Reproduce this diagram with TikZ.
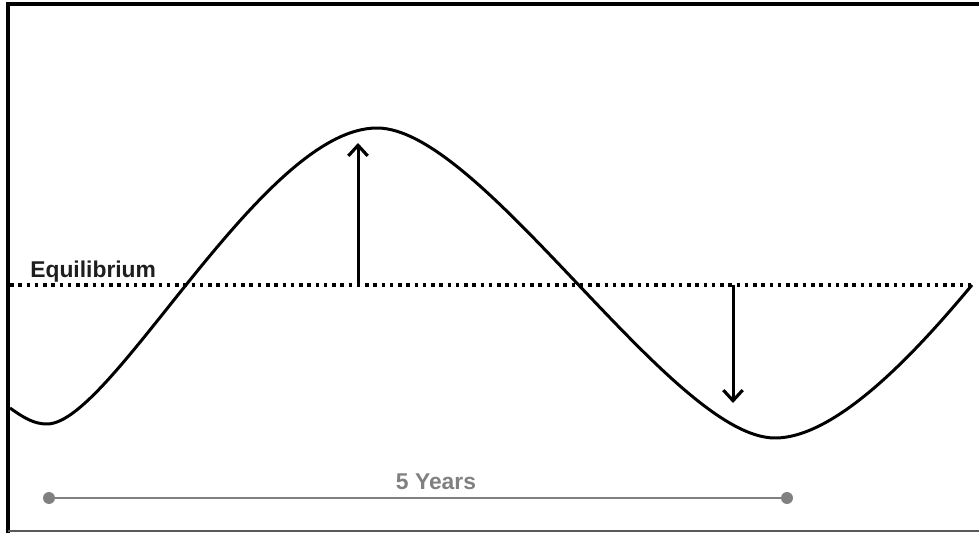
\documentclass[tikz,border=0pt]{standalone}
\usepackage{fontspec}
\setmainfont{Liberation Sans}
\usetikzlibrary{arrows.meta}
\definecolor{spangray}{RGB}{128,128,128}
\definecolor{labelink}{RGB}{30,30,30}
\tikzset{
  wave/.style={line width=1.7pt, line join=round},
  shiftarrow/.style={line width=1.7pt, -{Straight Barb[length=6pt,width=11pt,line width=1.8pt]}},
  eqline/.style={line width=2pt, dash pattern=on 2pt off 2.7pt},
  spanline/.style={draw=spangray, line width=1.7pt},
  spandot/.style={circle, fill=spangray, inner sep=0pt, minimum size=6.8pt},
  tag/.style={inner sep=0pt, font=\fontsize{13}{15}\selectfont\bfseries},
}
\begin{document}
\begin{tikzpicture}[x=0.02cm,y=-0.02cm]
\useasboundingbox (0,0) rectangle (979,533);
% frame
\draw[line width=2.3pt] (8,533) -- (8,4) -- (979,4);
\draw[line width=1pt, draw=black!65] (8,531) -- (979,531);
% equilibrium level
\coordinate (eqL) at (10,285);
\coordinate (eqR) at (972,285);
\draw[eqline] (eqL) -- (eqR);
\node[tag, text=labelink, anchor=base west] (eqtext) at (30,277) {Equilibrium};
% the wave
\coordinate (w0) at (10,408);
\coordinate (low1) at (47,424);
\coordinate (peak) at (377,128);
\coordinate (low2) at (775,438);
\draw[wave] (w0) .. controls (24,418) and (34,424) .. (low1)
  .. controls (112,424) and (262,128) .. (peak)
  .. controls (482,128) and (672,438) .. (low2)
  .. controls (842,438) and (930,335) .. (eqR);
% deviations
\coordinate (upbase) at (358,285);
\coordinate (uptip) at (358,143);
\coordinate (dnbase) at (733,285);
\coordinate (dntip) at (733,403);
\draw[shiftarrow] (upbase) -- (uptip);
\draw[shiftarrow] (dnbase) -- (dntip);
% time span
\node[spandot] (spanL) at (49,498) {};
\node[spandot] (spanR) at (787,498) {};
\draw[spanline] (spanL) -- (spanR);
\node[tag, text=spangray, anchor=base] (spantext) at (436,489) {5 Years};
\end{tikzpicture}
\end{document}
